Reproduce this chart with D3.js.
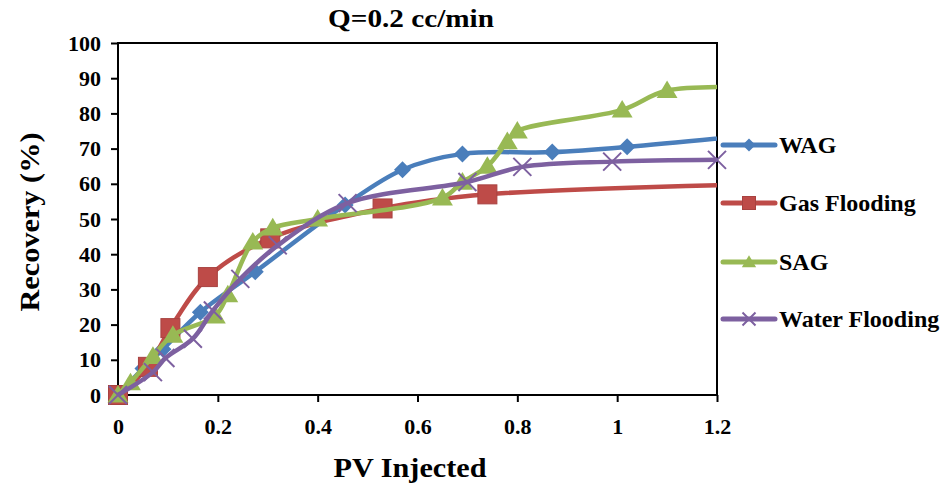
<!DOCTYPE html>
<html>
<head>
<meta charset="utf-8">
<title>Q=0.2 cc/min</title>
<script src="https://cdn.jsdelivr.net/npm/d3@7"></script>
<style>
  body { margin: 0; background: #fff; }
  svg { display: block; }
</style>
</head>
<body>
<svg id="chart" width="945" height="486"></svg>
<script>
// values (PV injected, recovery %)
const wagX = [0, 0.05, 0.09, 0.165, 0.275, 0.455, 0.57, 0.69, 0.87, 1.02, 1.3];
const wagY = [0, 7.5, 13, 23.5, 35, 54, 64, 68.5, 69, 70.5, 74.3];

const gasX = [0, 0.06, 0.105, 0.18, 0.305, 0.53, 0.74, 1.3];
const gasY = [0, 8, 19, 33.5, 44.5, 53, 57, 59.9];

const sagX = [0, 0.025, 0.07, 0.11, 0.195, 0.22, 0.27, 0.31, 0.40, 0.65, 0.69, 0.74, 0.78, 0.80, 1.01, 1.10, 1.3];
const sagY = [0, 3.5, 11, 17, 22.5, 28.5, 43.5, 47.5, 50, 56, 60.5, 65, 72, 75, 81, 86.5, 87.3];

const waterX = [0, 0.07, 0.095, 0.15, 0.19, 0.245, 0.32, 0.46, 0.70, 0.81, 0.99, 1.2];
const waterY = [0, 6.5, 10.5, 16, 24, 33, 42.5, 54.5, 60.5, 64.8, 66.3, 66.8];

const seriesNames = ["WAG", "Gas Flooding", "SAG", "Water Flooding"];
const xTicks = [0, 0.2, 0.4, 0.6, 0.8, 1, 1.2];
const yTicks = [0, 10, 20, 30, 40, 50, 60, 70, 80, 90, 100];

const colors = ["#4A7EBB", "#BE4B48", "#98B954", "#7D60A0"];
const shapes = ["diamond", "square", "triangle", "cross"];

const series = [
  d3.zip(wagX, wagY),
  d3.zip(gasX, gasY),
  d3.zip(sagX, sagY),
  d3.zip(waterX, waterY)
];

const FONT = "'Liberation Serif', Tinos, 'Times New Roman', serif";

const svg = d3.select("#chart")
  .style("font-family", FONT)
  .style("font-weight", "bold");

const margin = {left: 118, right: 228, top: 43, bottom: 91};
const W = 945, H = 486;

const x = d3.scaleLinear().domain([0, 1.2]).range([margin.left, W - margin.right]);
const y = d3.scaleLinear().domain([0, 100]).range([H - margin.bottom, margin.top]);

svg.append("defs").append("clipPath").attr("id", "plotclip")
  .append("rect")
  .attr("x", margin.left - 20).attr("y", margin.top - 20)
  .attr("width", x(1.2) - margin.left + 20)
  .attr("height", y(0) - margin.top + 40);

function styleText(sel, size) {
  sel.style("font-family", FONT).style("font-weight", "bold")
    .style("font-size", size + "px").attr("fill", "#000");
}

// axes
svg.append("g")
  .attr("transform", `translate(0,${y(0)})`)
  .call(d3.axisBottom(x).tickValues(xTicks).tickFormat(d3.format("")).tickSize(7).tickPadding(16))
  .call(g => g.select(".domain").remove())
  .call(g => g.selectAll("line").attr("stroke", "#000").attr("stroke-width", 2))
  .call(g => styleText(g.selectAll("text"), 22));

svg.append("g")
  .attr("transform", `translate(${margin.left},0)`)
  .call(d3.axisLeft(y).tickValues(yTicks).tickSize(7).tickPadding(10))
  .call(g => g.select(".domain").remove())
  .call(g => g.selectAll("line").attr("stroke", "#000").attr("stroke-width", 2))
  .call(g => styleText(g.selectAll("text"), 22));

// plot frame
svg.append("rect")
  .attr("x", margin.left).attr("y", margin.top)
  .attr("width", x(1.2) - margin.left).attr("height", y(0) - margin.top)
  .attr("fill", "none").attr("stroke", "#000").attr("stroke-width", 2);

const line = d3.line()
  .x(d => x(d[0])).y(d => y(d[1]))
  .curve(d3.curveCatmullRom.alpha(0.5));

function marker(sel, shape, color, s) {
  if (shape === "diamond") {
    sel.append("path").attr("d", `M0,${-s}L${s},0L0,${s}L${-s},0Z`).attr("fill", color);
  } else if (shape === "square") {
    sel.append("rect").attr("x", -s).attr("y", -s).attr("width", 2 * s).attr("height", 2 * s)
      .attr("fill", color).attr("stroke", "#A84240").attr("stroke-width", 1);
  } else if (shape === "triangle") {
    sel.append("path").attr("d", `M0,${-s * 1.05}L${s * 1.1},${s * 0.8}L${-s * 1.1},${s * 0.8}Z`).attr("fill", color);
  } else {
    sel.append("path").attr("d", `M${-s},${-s}L${s},${s}M${s},${-s}L${-s},${s}`)
      .attr("stroke", color).attr("stroke-width", 2).attr("fill", "none");
  }
}

const sizes = [8.5, 9.5, 9.5, 9];

series.forEach((data, i) => {
  const g = svg.append("g").attr("class", "series-" + i);
  g.append("path")
    .datum(data)
    .attr("clip-path", "url(#plotclip)")
    .attr("fill", "none")
    .attr("stroke", colors[i])
    .attr("stroke-width", 4.5)
    .attr("stroke-linejoin", "round")
    .attr("d", line);
  g.selectAll(".m")
    .data(data.filter(d => d[0] <= 1.2))
    .enter().append("g")
    .attr("class", "m")
    .attr("transform", d => `translate(${x(d[0])},${y(d[1])})`)
    .each(function() { marker(d3.select(this), shapes[i], colors[i], sizes[i]); });
});

// legend
const legendY = [145, 203, 262, 319];
seriesNames.forEach((name, i) => {
  const g = svg.append("g").attr("transform", `translate(723,${legendY[i]})`);
  g.append("line").attr("x1", 0).attr("x2", 52)
    .attr("stroke", colors[i]).attr("stroke-width", 5).attr("stroke-linecap", "round");
  const m = g.append("g").attr("transform", "translate(26,0)");
  marker(m, shapes[i], colors[i], 6.5);
  g.append("text").attr("x", 56).attr("y", 8).call(styleText, 24).text(name);
});

// titles
svg.append("text")
  .attr("x", 411).attr("y", 27)
  .attr("text-anchor", "middle")
  .call(styleText, 26)
  .attr("textLength", 166).attr("lengthAdjust", "spacingAndGlyphs")
  .text("Q=0.2 cc/min");

svg.append("text")
  .attr("x", 410).attr("y", 477)
  .attr("text-anchor", "middle")
  .call(styleText, 28)
  .attr("textLength", 153).attr("lengthAdjust", "spacingAndGlyphs")
  .text("PV Injected");

svg.append("text")
  .attr("transform", "translate(39,222) rotate(-90)")
  .attr("text-anchor", "middle")
  .call(styleText, 27)
  .attr("textLength", 179).attr("lengthAdjust", "spacingAndGlyphs")
  .text("Recovery (%)");
</script>
</body>
</html>
